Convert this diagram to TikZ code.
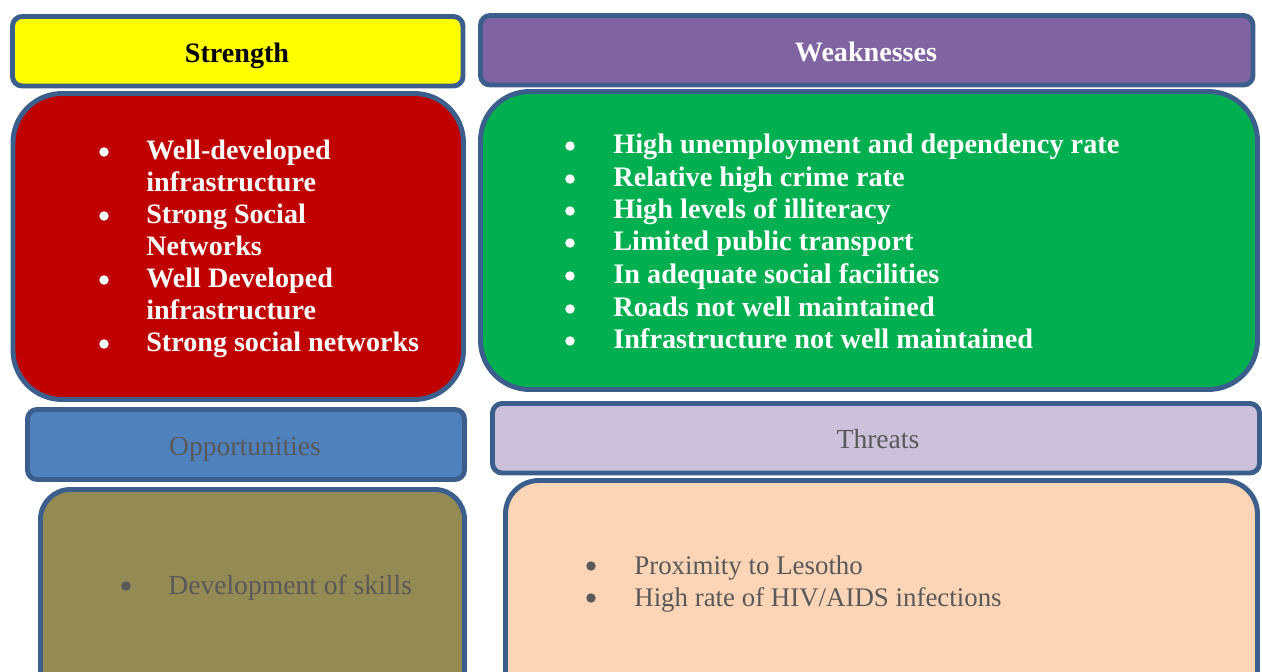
\documentclass[tikz,border=0pt]{standalone}
\usepackage{fontspec}
\setmainfont{Liberation Serif}
\usepackage{tikz}
\usetikzlibrary{positioning,fit}
\definecolor{edge}{HTML}{3B5E8C}
\definecolor{strengthfill}{HTML}{FFFF00}
\definecolor{weakfill}{HTML}{8064A2}
\definecolor{redfill}{HTML}{C00000}
\definecolor{greenfill}{HTML}{00B050}
\definecolor{oppfill}{HTML}{4F81BD}
\definecolor{threatfill}{HTML}{CCC1DA}
\definecolor{olivefill}{HTML}{948A54}
\definecolor{peachfill}{HTML}{FBD5B5}
\definecolor{greytext}{HTML}{595959}

\begin{document}
\begin{tikzpicture}[x=0.02cm, y=-0.02cm, font=\fontsize{15.7}{19}\selectfont,
  box/.style={draw=edge, line width=2.8pt, inner sep=0pt, rounded corners=5.5pt},
  head/.style={anchor=base, inner sep=0pt},
  item/.style={anchor=base west, inner sep=0pt},
  dot/.style={circle, inner sep=0pt, minimum size=5.4pt}]
  \clip (0,0) rectangle (1262,672);
  % header boxes
  \node[box, fill=strengthfill, fit={(12.5,16.5) (463,86)}] (strength) {};
  \node[box, fill=weakfill, fit={(480.5,15.5) (1253,85)}] (weak) {};
  \node[box, fill=oppfill, fit={(27.5,409.5) (464.5,479.5)}] (opp) {};
  \node[box, fill=threatfill, fit={(492.5,403.5) (1259.5,473)}] (threat) {};
  \node[head, font=\fontsize{16}{19}\bfseries] (strengthtxt) at (237,63) {Strength};
  \node[head, text=white, font=\fontsize{16}{19}\bfseries] (weaktxt) at (866,62) {Weaknesses};
  \node[head, text=greytext] (opptxt) at (245,456) {Opportunities};
  \node[head, text=greytext] (threattxt) at (878,448) {Threats};
  % content boxes
  \node[box, rounded corners=28pt, fill=redfill, fit={(13,93.5) (463.5,399.5)}] (redbox) {};
  \node[box, rounded corners=28pt, fill=greenfill, fit={(480.5,91.5) (1257.5,389.5)}] (greenbox) {};
  \node[box, rounded corners=17pt, fill=olivefill, fit={(40.5,489.5) (464.5,720)}] (olivebox) {};
  \node[box, rounded corners=19pt, fill=peachfill, fit={(505.5,480.5) (1257.5,720)}] (peachbox) {};
  % strength items
  \foreach \y/\t [count=\i] in {160/Well-developed, 192/infrastructure, 224/Strong Social,
    256/Networks, 288/Well Developed, 320/infrastructure, 352/Strong social networks}
    \node[item, text=white, font=\fontsize{16}{19}\bfseries] (str\i) at (146,\y) {\t};
  \foreach \y [count=\i] in {160,224,288,352}
    \node[dot, fill=white] (strdot\i) at (104,\y-8) {};
  % weakness items
  \foreach \y/\t [count=\i] in {154/High unemployment and dependency rate, 187/Relative high crime rate,
    219/High levels of illiteracy, 251/Limited public transport, 284/In adequate social facilities,
    317/Roads not well maintained, 349/Infrastructure not well maintained}{
    \node[item, text=white, font=\fontsize{16.1}{19}\bfseries] (weak\i) at (613,\y) {\t};
    \node[dot, fill=white] (weakdot\i) at (570,\y-8) {};
  }
  % opportunity items
  \node[item, text=greytext] (opp1) at (168,594) {Development of skills};
  \node[dot, fill=greytext] (oppdot1) at (126,586) {};
  % threat items
  \foreach \y/\t [count=\i] in {574/Proximity to Lesotho, 606/{High rate of HIV/AIDS infections}}{
    \node[item, text=greytext, font=\fontsize{15.3}{19}\selectfont] (threat\i) at (634,\y) {\t};
    \node[dot, fill=greytext] (threatdot\i) at (591,\y-8) {};
  }
\end{tikzpicture}
\end{document}
